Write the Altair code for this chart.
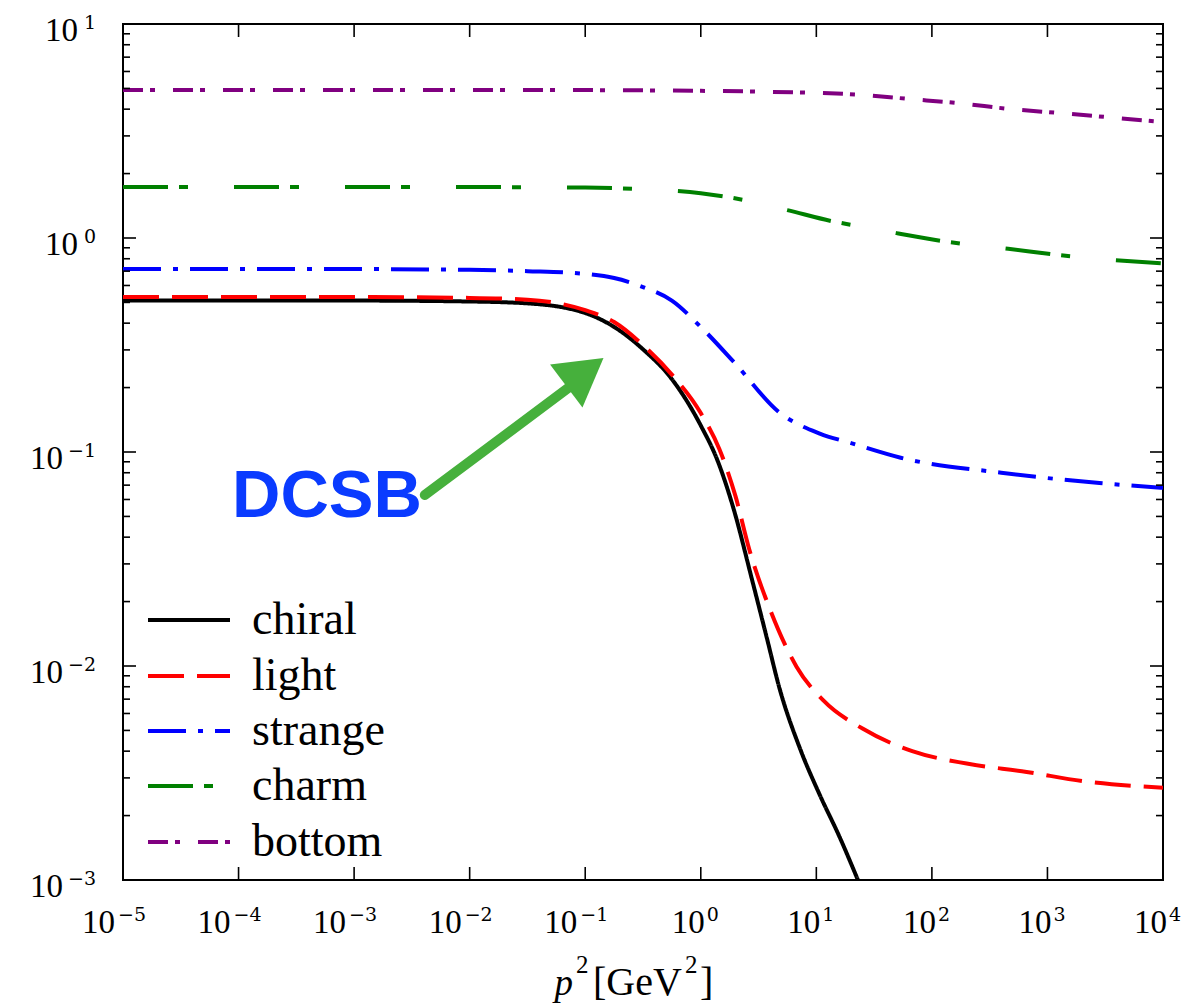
import altair as alt
import pandas as pd

# ---------------- data ----------------
series_names = ["chiral", "light", "strange", "charm", "bottom"]
series_colors = ["#000000", "#ff0000", "#0000ff", "#008000", "#800080"]
series_dashes = [[1, 0], [36, 13], [38, 12, 5, 12], [45, 11, 9, 46], [20, 7, 5, 18]]

chiral_x = [1e-5, 1e-4, 1e-3, 1e-2, 0.0316, 0.1, 0.178, 0.316, 0.562, 1.0, 1.41, 1.89, 2.82, 3.72, 4.79, 7.24, 10.7, 15.8, 22.9]
chiral_y = [0.51, 0.51, 0.51, 0.505, 0.495, 0.446, 0.384, 0.302, 0.219, 0.133, 0.09, 0.056, 0.0245, 0.0136, 0.0079, 0.0041, 0.0025, 0.0016, 0.001]

light_x = [1e-5, 1e-4, 1e-3, 1e-2, 0.0316, 0.1, 0.178, 0.316, 0.562, 1.0, 1.45, 2.0, 2.63, 4.07, 6.76, 11.5, 25.1, 67.6, 200, 661, 2000, 10000]
light_y = [0.53, 0.53, 0.53, 0.525, 0.515, 0.46, 0.405, 0.316, 0.23, 0.152, 0.103, 0.062, 0.035, 0.0178, 0.0099, 0.0069, 0.0051, 0.0040, 0.0035, 0.0032, 0.0029, 0.0027]

strange_x = [1e-5, 1e-3, 1e-2, 0.0316, 0.1, 0.178, 0.316, 0.562, 1.0, 1.95, 4.79, 10.7, 20, 53.7, 398, 2820, 10000]
strange_y = [0.716, 0.716, 0.71, 0.70, 0.68, 0.65, 0.59, 0.51, 0.384, 0.262, 0.153, 0.122, 0.110, 0.094, 0.080, 0.0716, 0.068]

charm_x = [1e-5, 1e-3, 1e-2, 0.1, 0.316, 1.0, 2.29, 5.62, 13.5, 20.4, 51.3, 120, 457, 1620, 10000]
charm_y = [1.73, 1.73, 1.73, 1.72, 1.69, 1.62, 1.51, 1.35, 1.20, 1.15, 1.05, 0.97, 0.89, 0.82, 0.76]

bottom_x = [1e-5, 1e-3, 1e-1, 1.0, 3.24, 24, 64.6, 174, 468, 1320, 10000]
bottom_y = [4.92, 4.92, 4.91, 4.87, 4.83, 4.67, 4.46, 4.26, 4.01, 3.83, 3.48]

x_ticks = [1e-5, 1e-4, 1e-3, 1e-2, 1e-1, 1, 10, 100, 1000, 10000]
x_exps = ["\u22125", "\u22124", "\u22123", "\u22122", "\u22121", "0", "1", "2", "3", "4"]
y_ticks = [1e-3, 1e-2, 1e-1, 1, 10]
y_exps = ["\u22123", "\u22122", "\u22121", "0", "1"]
y_minor = [k * d for d in [1e-3, 1e-2, 1e-1, 1] for k in range(2, 10)]

annot_text = ["DCSB"]
annot_x = [5.82e-4]
annot_y = [0.0497]
arrow_x = [0.00409]
arrow_y = [0.063]
arrow_x2 = [0.0813]
arrow_y2 = [0.21]
head_x = [0.0993]
head_y = [0.2365]

# ---------------- layout / style ----------------
W, H = 1040, 856
SERIF = "Liberation Serif"
EXPF = "DejaVu Serif"
LW = 4
xscale = alt.Scale(type="log", domain=[1e-5, 1e4], nice=False)
yscale = alt.Scale(type="log", domain=[1e-3, 10], nice=False)

rows = []
for name, xs, ys in zip(series_names,
                        [chiral_x, light_x, strange_x, charm_x, bottom_x],
                        [chiral_y, light_y, strange_y, charm_y, bottom_y]):
    for xv, yv in zip(xs, ys):
        rows.append({"series": name, "p2": xv, "M": yv})
df = pd.DataFrame(rows)

lines = alt.Chart(df).mark_line(strokeWidth=LW, interpolate="monotone", clip=True).encode(
    x=alt.X("p2:Q", scale=xscale, axis=None),
    y=alt.Y("M:Q", scale=yscale, axis=None),
    color=alt.Color("series:N", scale=alt.Scale(domain=series_names, range=series_colors), legend=None),
    strokeDash=alt.StrokeDash("series:N", scale=alt.Scale(domain=series_names, range=series_dashes), legend=None),
)

layers = [lines]

# inward ticks on all four sides
ymaj_df = pd.DataFrame({"v": y_ticks})
ymin_df = pd.DataFrame({"v": y_minor})
xmaj_df = pd.DataFrame({"v": x_ticks})
for d, L in [(ymaj_df, 13), (ymin_df, 7)]:
    for x0, x1 in [(0, L), (W - L, W)]:
        layers.append(alt.Chart(d).mark_rule(color="black", strokeWidth=1.6).encode(
            y=alt.Y("v:Q", scale=yscale, axis=None), x=alt.value(x0), x2=alt.value(x1)))
for y0, y1 in [(H - 13, H), (0, 13)]:
    layers.append(alt.Chart(xmaj_df).mark_rule(color="black", strokeWidth=1.6).encode(
        x=alt.X("v:Q", scale=xscale, axis=None), y=alt.value(y0), y2=alt.value(y1)))

# tick labels as 10 + superscript exponent
xl = pd.DataFrame({"v": x_ticks, "exp": x_exps})
neg = "datum.v < 1"
pos = "datum.v >= 1"
for filt, bdx, edx in [(neg, -8, -5), (pos, 4, 6)]:
    layers.append(alt.Chart(xl).transform_filter(filt).mark_text(
        text="10", align="right", baseline="alphabetic", dx=bdx, font=SERIF, fontSize=33, color="black").encode(
        x=alt.X("v:Q", scale=xscale, axis=None), y=alt.value(H + 53)))
    layers.append(alt.Chart(xl).transform_filter(filt).mark_text(
        align="left", baseline="alphabetic", dx=edx, font=EXPF, fontSize=19, color="black").encode(
        x=alt.X("v:Q", scale=xscale, axis=None), y=alt.value(H + 41), text="exp:N"))

yl = pd.DataFrame({"v": y_ticks, "exp": y_exps})
for filt, bx in [(neg, -60), (pos, -45)]:
    layers.append(alt.Chart(yl).transform_filter(filt).mark_text(
        text="10", align="right", baseline="alphabetic", dy=17, font=SERIF, fontSize=33, color="black").encode(
        y=alt.Y("v:Q", scale=yscale, axis=None), x=alt.value(bx)))
layers.append(alt.Chart(yl).mark_text(
    align="right", baseline="alphabetic", dy=5, font=EXPF, fontSize=19, color="black").encode(
    y=alt.Y("v:Q", scale=yscale, axis=None), x=alt.value(-27), text="exp:N"))

# x-axis title  p^2 [GeV^2]
title_parts = [("p", 450, H + 115, 37, "italic", "right"),
               ("2", 453, H + 93, 25, "normal", "left"),
               ("[GeV", 470, H + 115, 40, "normal", "left"),
               ("2", 562, H + 93, 25, "normal", "left"),
               ("]", 577, H + 115, 40, "normal", "left")]
for t, tx, ty, fs, st, al in title_parts:
    layers.append(alt.Chart(pd.DataFrame({"a": [0]})).mark_text(
        text=t, align=al, baseline="alphabetic", font=SERIF, fontStyle=st, fontSize=fs, color="black").encode(
        x=alt.value(tx), y=alt.value(ty)))

# manual legend
row_line_y = [596, 652, 707, 762, 818]
for name, col, dash, ly in zip(series_names, series_colors, series_dashes, row_line_y):
    layers.append(alt.Chart(pd.DataFrame({"series": [name]})).mark_rule(
        color=col, strokeDash=dash, strokeWidth=LW).encode(
        x=alt.value(25), x2=alt.value(107), y=alt.value(ly)))
    layers.append(alt.Chart(pd.DataFrame({"series": [name]})).mark_text(
        text=name, align="left", baseline="alphabetic", font=SERIF, fontSize=46, color="black").encode(
        x=alt.value(129), y=alt.value(ly + 14)))

# DCSB annotation with arrow
arr_df = pd.DataFrame({"x": arrow_x, "y": arrow_y, "x2": arrow_x2, "y2": arrow_y2})
layers.append(alt.Chart(arr_df).mark_rule(color="#46b03c", strokeWidth=10, strokeCap="round").encode(
    x=alt.X("x:Q", scale=xscale, axis=None), y=alt.Y("y:Q", scale=yscale, axis=None),
    x2="x2:Q", y2="y2:Q"))
head_df = pd.DataFrame({"x": head_x, "y": head_y})
layers.append(alt.Chart(head_df).mark_point(shape="triangle-right", filled=True, color="#46b03c",
                                             opacity=1, size=2900, angle=323).encode(
    x=alt.X("x:Q", scale=xscale, axis=None), y=alt.Y("y:Q", scale=yscale, axis=None)))
txt_df = pd.DataFrame({"x": annot_x, "y": annot_y, "t": annot_text})
layers.append(alt.Chart(txt_df).mark_text(font="Liberation Sans", fontWeight="bold", fontSize=67,
                                          color="#0a3bff", align="center", baseline="alphabetic").encode(
    x=alt.X("x:Q", scale=xscale, axis=None), y=alt.Y("y:Q", scale=yscale, axis=None), text="t:N"))

chart = alt.layer(*layers).properties(
    width=W, height=H,
    autosize=alt.AutoSizeParams(type="none"),
    padding={"left": 115, "top": 16, "right": 22, "bottom": 126},
).configure_view(stroke="black", strokeWidth=2)

chart.save("out.html", embed_options={"renderer": "svg", "actions": False})
